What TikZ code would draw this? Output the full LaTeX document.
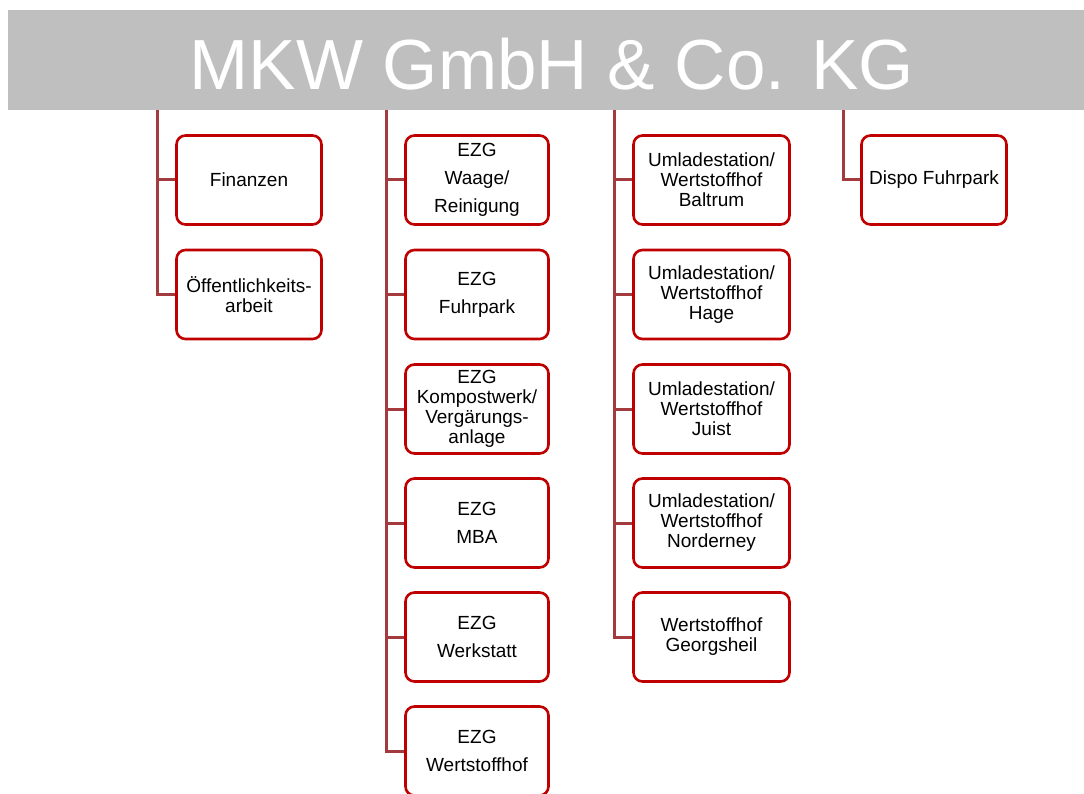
\documentclass[tikz,border=0pt]{standalone}
\usepackage{fontspec}
\setmainfont{Liberation Sans}
\usetikzlibrary{positioning}
\definecolor{bannerGray}{HTML}{BFBFBF}
\definecolor{boxRed}{HTML}{C00000}
\definecolor{lineRed}{HTML}{A33A3E}
\tikzset{
  orgbox/.style={draw=boxRed, line width=2.6pt, rounded corners=9pt, fill=white,
    minimum height=89pt, minimum width=145pt, align=center, inner sep=2pt,
    font=\fontsize{19}{20}\selectfont},
  link/.style={draw=lineRed, line width=3pt},
}

\begin{document}
\begin{tikzpicture}[x=1pt,y=-1pt]
    \useasboundingbox (0,0) rectangle (1084,794);

    \node[fill=bannerGray, anchor=north west, inner sep=0pt,
      minimum width=1076pt, minimum height=100pt] (banner) at (8,10) {};
    \node[anchor=base, text=white, font=\fontsize{71}{80}\selectfont] (title) at (552,90) {MKW GmbH \& Co. KG};

    % first column
    \node[orgbox] (fin) at (249,180) {Finanzen};
    \node[orgbox] (oeff) at (249,294.5) {Öffentlichkeits-\\arbeit};

    % second column
    \node[orgbox, minimum width=143pt] (waage) at (477,180) {EZG\\[8pt]Waage/\\[8pt]Reinigung};
    \node[orgbox, minimum width=143pt] (fuhr) at (477,294.5) {EZG\\[8pt]Fuhrpark};
    \node[orgbox, minimum width=143pt] (kompost) at (477,409) {EZG\\Kompostwerk/\\Vergärungs-\\anlage};
    \node[orgbox, minimum width=143pt] (mba) at (477,523) {EZG\\[8pt]MBA};
    \node[orgbox, minimum width=143pt] (werk) at (477,637) {EZG\\[8pt]Werkstatt};
    \node[orgbox, minimum width=143pt] (wsh) at (477,751) {EZG\\[8pt]Wertstoffhof};

    % third column
    \node[orgbox, minimum width=156pt] (baltrum) at (711.5,180) {Umladestation/\\Wertstoffhof\\Baltrum};
    \node[orgbox, minimum width=156pt] (hage) at (711.5,294.5) {Umladestation/\\Wertstoffhof\\Hage};
    \node[orgbox, minimum width=156pt] (juist) at (711.5,409) {Umladestation/\\Wertstoffhof\\Juist};
    \node[orgbox, minimum width=156pt] (norderney) at (711.5,523) {Umladestation/\\Wertstoffhof\\Norderney};
    \node[orgbox, minimum width=156pt] (georgsheil) at (711.5,637) {Wertstoffhof\\Georgsheil};

    % fourth column
    \node[orgbox] (dispo) at (934,180) {Dispo Fuhrpark};

    \coordinate (c1) at (157,110);
    \coordinate (c2) at (386,110);
    \coordinate (c3) at (614,110);
    \coordinate (c4) at (843,110);

    \draw[link] (c1) |- (oeff.west);
    \draw[link] (c1 |- fin.west) -- (fin.west);

    \draw[link] (c2) |- (wsh.west);
    \draw[link] (c2 |- waage.west) -- (waage.west);
    \draw[link] (c2 |- fuhr.west) -- (fuhr.west);
    \draw[link] (c2 |- kompost.west) -- (kompost.west);
    \draw[link] (c2 |- mba.west) -- (mba.west);
    \draw[link] (c2 |- werk.west) -- (werk.west);

    \draw[link] (c3) |- (georgsheil.west);
    \draw[link] (c3 |- baltrum.west) -- (baltrum.west);
    \draw[link] (c3 |- hage.west) -- (hage.west);
    \draw[link] (c3 |- juist.west) -- (juist.west);
    \draw[link] (c3 |- norderney.west) -- (norderney.west);

    \draw[link] (c4) |- (dispo.west);
\end{tikzpicture}
\end{document}
